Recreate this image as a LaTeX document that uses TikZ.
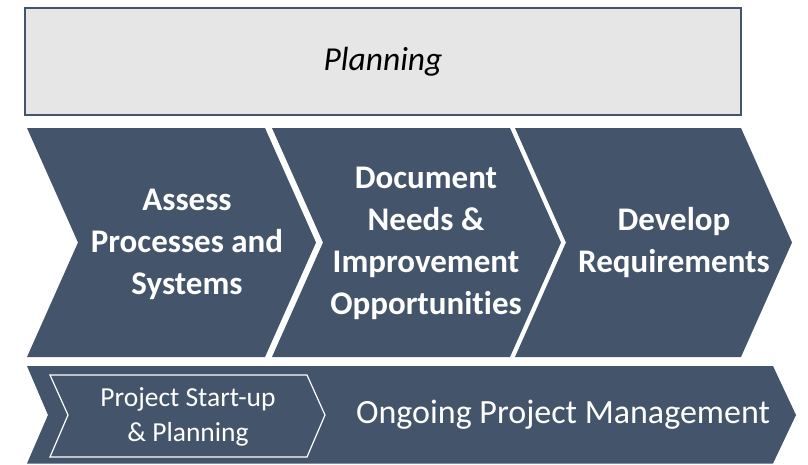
\documentclass[tikz,border=0pt]{standalone}
\usepackage{fontspec}
\setmainfont{Carlito}[Ligatures=NoCommon]
\usetikzlibrary{calc}

\definecolor{chevroncolor}{RGB}{68,84,106}
\definecolor{planfillcolor}{RGB}{230,230,230}

\tikzset{
  %% chevron : one process step, #1 = length of the top edge
  chevron/.pic = {
    \fill [chevroncolor] (0,0) -- ++(#1,0) -- ++(51,114.5) -- ++(-51,114.5)
      -- ++(-#1,0) -- ++(51,-114.5) -- cycle;
  }
}
\tikzset{
  %% planbox : the planning band on top
  planbox/.style={
    rectangle,
    draw=chevroncolor,
    line width=2.7pt,
    fill=planfillcolor,
    minimum width=716pt,
    minimum height=107pt,
    font=\itshape\fontsize{33.5}{40}\selectfont,
    align=center
  },
  %% steptext : text of a main process step
  steptext/.style={
    text=white,
    font=\bfseries\fontsize{33}{42}\selectfont,
    align=center
  },
  %% phasetext : text in the bottom band
  phasetext/.style={
    text=white,
    font=\fontsize{27.5}{35}\selectfont,
    align=center
  },
  %% ongoingtext : the long label of the bottom band
  ongoingtext/.style={
    text=white,
    font=\fontsize{34}{40}\selectfont,
    align=center
  },
  %% phaseframe : white outline of the first phase
  phaseframe/.style={white, line width=1.2pt, line join=miter}
}

\begin{document}
\begin{tikzpicture}
  [x=1pt,
  y=-1pt]
  \useasboundingbox (0,0) rectangle (808,464);

  %% Planning band
  \node (planning) [planbox] at (383,61.5) {Planning};

  %% Main process chevrons
  \pic (assessbg) at (27,128) {chevron=238};
  \pic (needsbg) at (272,128) {chevron=238};
  \pic (developbg) at (515,128) {chevron=226};

  \node (assess) [steptext] at (187,244) {%
    Assess\\Processes and\\Systems};
  \node (needs) [steptext] at (426,243) {%
    Document\\Needs \&\\Improvement\\Opportunities};
  \node (develop) [steptext] at (674,243) {%
    Develop\\Requirements};

  %% Project management band
  \fill [chevroncolor] (27,366) -- (773,366) -- (796,415) -- (773,463.5)
    -- (27,463.5) -- (48,415) -- cycle;
  \draw [phaseframe] (50,375) -- (307,375) -- (325,415) -- (307,457)
    -- (50,457) -- (68,415) -- cycle;

  \node (startup) [phasetext] at (188,417) {%
    Project Start-up\\\& Planning};
  \node (ongoing) [ongoingtext] at (563,415) {%
    Ongoing Project Management};

\end{tikzpicture}
\end{document}
